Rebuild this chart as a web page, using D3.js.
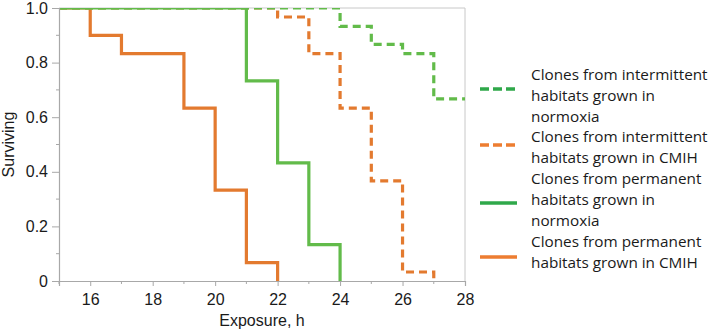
<!DOCTYPE html>
<html>
<head>
<meta charset="utf-8">
<script src="https://cdn.jsdelivr.net/npm/d3@7"></script>
<style>
  body { margin: 0; background: #fff; }
  svg { display: block; }
</style>
</head>
<body>
<div id="chart"></div>
<script>
// survival curves (time h -> fraction surviving)
const permCmihTime = [15, 16, 17, 19, 20, 21, 22];
const permCmihSurv = [1, 0.9, 0.833, 0.633, 0.333, 0.067, 0];
const permNormTime = [15, 21, 22, 23, 24];
const permNormSurv = [1, 0.733, 0.433, 0.133, 0];
const interCmihTime = [15, 22, 23, 24, 25, 26, 27];
const interCmihSurv = [1, 0.967, 0.833, 0.633, 0.367, 0.033, 0];
const interNormTime = [15, 24, 25, 26, 27, 28];
const interNormSurv = [1, 0.933, 0.867, 0.833, 0.667, 0.667];

const xTicks = [16, 18, 20, 22, 24, 26, 28];
const xMinor = [15, 17, 19, 21, 23, 25, 27];
const yTicks = [0, 0.2, 0.4, 0.6, 0.8, 1.0];
const yMinor = [0.1, 0.3, 0.5, 0.7, 0.9];

const legendLabels = [
  ['Clones from intermittent', 'habitats grown in', 'normoxia'],
  ['Clones from intermittent', 'habitats grown in CMIH'],
  ['Clones from permanent', 'habitats grown in', 'normoxia'],
  ['Clones from permanent', 'habitats grown in CMIH']
];

const orange = '#e37a2f';
const green = '#62bb4a';

const width = 709, height = 331;
const m = { left: 59, right: 465, top: 8, bottom: 281 };

const svg = d3.select('#chart').append('svg')
  .attr('width', width)
  .attr('height', height);

const x = d3.scaleLinear().domain([15, 28]).range([m.left, m.right]);
const y = d3.scaleLinear().domain([0, 1]).range([m.bottom, m.top]);

svg.append('clipPath').attr('id', 'plot')
  .append('rect')
  .attr('x', m.left).attr('y', m.top)
  .attr('width', m.right - m.left).attr('height', m.bottom - m.top);

// frame
svg.append('line').attr('x1', m.left).attr('x2', m.right).attr('y1', m.top).attr('y2', m.top)
  .attr('stroke', '#c8c8c8');
svg.append('line').attr('x1', m.right).attr('x2', m.right).attr('y1', m.top).attr('y2', m.bottom)
  .attr('stroke', '#c8c8c8');

const series = [
  { t: permCmihTime, s: permCmihSurv, color: orange, dash: null },
  { t: interCmihTime, s: interCmihSurv, color: orange, dash: '8,5' },
  { t: interNormTime, s: interNormSurv, color: green, dash: '8,5' },
  { t: permNormTime, s: permNormSurv, color: green, dash: null }
];

const line = d3.line()
  .x(d => x(d[0]))
  .y(d => y(d[1]))
  .curve(d3.curveStepAfter);

svg.append('g').attr('clip-path', 'url(#plot)')
  .selectAll('path')
  .data(series)
  .enter()
  .append('path')
  .attr('d', d => line(d.t.map((t, i) => [t, d.s[i]])))
  .attr('fill', 'none')
  .attr('stroke', d => d.color)
  .attr('stroke-width', 3.2)
  .attr('stroke-dasharray', d => d.dash);

// axes
const xAxis = svg.append('g')
  .attr('class', 'axis')
  .attr('transform', `translate(0,${m.bottom})`)
  .call(d3.axisBottom(x).tickValues(xTicks).tickSize(5).tickPadding(8).tickFormat(d3.format('d')));
xAxis.append('g').selectAll('line').data(xMinor).enter()
  .append('line')
  .attr('class', 'minor')
  .attr('x1', d => x(d)).attr('x2', d => x(d))
  .attr('y1', 0).attr('y2', 3);

const yAxis = svg.append('g')
  .attr('class', 'axis')
  .attr('transform', `translate(${m.left},0)`)
  .call(d3.axisLeft(y).tickValues(yTicks).tickSize(7).tickPadding(4)
    .tickFormat(d => d === 0 ? '0' : d3.format('.1f')(d)));
yAxis.append('g').selectAll('line').data(yMinor).enter()
  .append('line')
  .attr('class', 'minor')
  .attr('x1', -3).attr('x2', 0)
  .attr('y1', d => y(d)).attr('y2', d => y(d));

svg.selectAll('.axis .domain, .axis .tick line, .axis .minor')
  .attr('stroke', '#a8a8a8');
svg.selectAll('.axis .domain').attr('stroke-width', 1.2);
svg.selectAll('.axis .tick text')
  .attr('fill', '#1a1a1a')
  .style('font-family', '"Liberation Sans", Arial, sans-serif')
  .style('font-size', '16px');

svg.append('text')
  .attr('x', (m.left + m.right) / 2)
  .attr('y', 326)
  .attr('text-anchor', 'middle')
  .style('font-family', '"Liberation Sans", Arial, sans-serif')
  .style('font-size', '16px')
  .attr('fill', '#1a1a1a')
  .text('Exposure, h');

svg.append('text')
  .attr('transform', `translate(14,${(m.top + m.bottom) / 2}) rotate(-90)`)
  .attr('text-anchor', 'middle')
  .style('font-family', '"Liberation Sans", Arial, sans-serif')
  .style('font-size', '16px')
  .attr('fill', '#1a1a1a')
  .text('Surviving');

// legend
const legendItems = [
  { color: '#2fa84a', dash: '9,4', lineY: 89, firstBase: 80 },
  { color: '#ed7d31', dash: '9,4', lineY: 145, firstBase: 142 },
  { color: '#2fa84a', dash: null, lineY: 203, firstBase: 184 },
  { color: '#ed7d31', dash: null, lineY: 257, firstBase: 247 }
];

const legend = svg.append('g').selectAll('g')
  .data(legendItems)
  .enter()
  .append('g');

legend.append('line')
  .attr('x1', 480).attr('x2', 517)
  .attr('y1', d => d.lineY).attr('y2', d => d.lineY)
  .attr('stroke', d => d.color)
  .attr('stroke-width', 3.5)
  .attr('stroke-dasharray', d => d.dash);

legend.append('text')
  .style('font-family', '"Open Sans", sans-serif')
  .style('font-size', '15.3px')
  .attr('fill', '#1a1a1a')
  .each(function(d, i) {
    d3.select(this).selectAll('tspan')
      .data(legendLabels[i])
      .enter()
      .append('tspan')
      .attr('x', 531)
      .attr('y', (t, j) => d.firstBase + j * 20.8)
      .text(t => t);
  });
</script>
</body>
</html>
